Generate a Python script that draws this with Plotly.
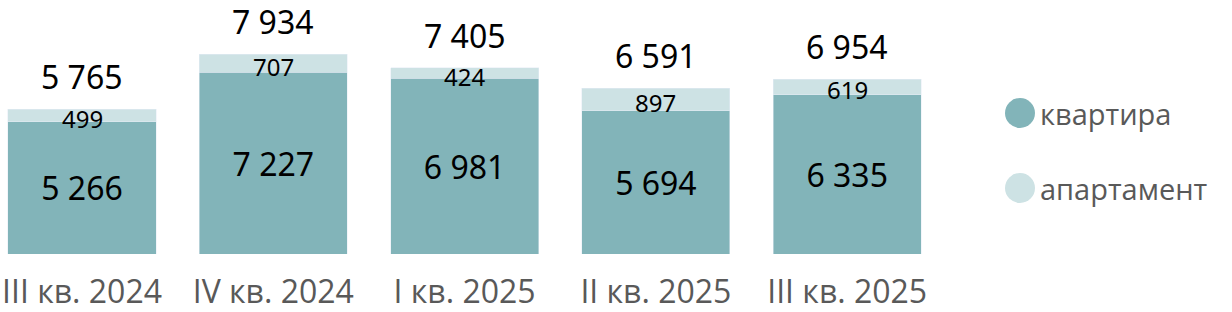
import plotly.graph_objects as go

categories = ["III кв. 2024", "IV кв. 2024", "I кв. 2025", "II кв. 2025", "III кв. 2025"]
kvartira = [5266, 7227, 6981, 5694, 6335]
apartament = [499, 707, 424, 897, 619]
totals = [5765, 7934, 7405, 6591, 6954]

C_DARK = "#82B4B9"
C_LIGHT = "#CDE2E4"
W, H = 1232, 312
PLOT_R = 1000
BOTTOM = 58
UNIT = 191.3

def fmt(v):
    return f"{v:,}".replace(",", " ")

fig = go.Figure()
fig.add_bar(x=categories, y=kvartira, marker_color=C_DARK, name="квартира",
            text=[fmt(v) for v in kvartira], textposition="inside",
            insidetextanchor="middle", constraintext="none",
            textfont=dict(size=32, color="black", family="Noto Sans"))
fig.add_bar(x=categories, y=apartament, marker_color=C_LIGHT, name="апартамент")

for c, k, a, t in zip(categories, kvartira, apartament, totals):
    fig.add_annotation(x=c, y=k + a / 2, text=fmt(a), showarrow=False,
                       yshift=-3, font=dict(size=24, color="black", family="Noto Sans"))
    fig.add_annotation(x=c, y=t, text=fmt(t), showarrow=False, yanchor="bottom",
                       yshift=9, font=dict(size=32, color="black", family="Noto Sans"))

plot_h = H - BOTTOM
# legend
for name, col, ypx in [("квартира", C_DARK, 113), ("апартамент", C_LIGHT, 188)]:
    cx, cy, r = 1020, ypx, 15
    fig.add_shape(type="circle", xref="paper", yref="paper",
                  x0=(cx - r) / W, x1=(cx + r) / W,
                  y0=(plot_h - cy - r) / plot_h, y1=(plot_h - cy + r) / plot_h,
                  fillcolor=col, line=dict(width=0))
    fig.add_annotation(xref="paper", yref="paper", x=1038 / W, y=(plot_h - cy) / plot_h,
                       xanchor="left", yanchor="middle", text=name, showarrow=False,
                       font=dict(size=29, color="#595959", family="Open Sans"))

fig.update_layout(
    barmode="stack", bargap=0.226, width=W, height=H,
    margin=dict(l=0, r=0, t=0, b=BOTTOM), showlegend=False,
    plot_bgcolor="white", paper_bgcolor="white",
    xaxis=dict(domain=[0, PLOT_R / W], range=[-82 / UNIT, (PLOT_R - 82) / UNIT],
               showgrid=False, showline=False, zeroline=False,
               ticks="outside", ticklen=10, tickcolor="white",
               tickfont=dict(size=32, color="#595959", family="Open Sans")),
    yaxis=dict(range=[0, plot_h / 0.02515], visible=False),
)
fig.write_html("out.html")
